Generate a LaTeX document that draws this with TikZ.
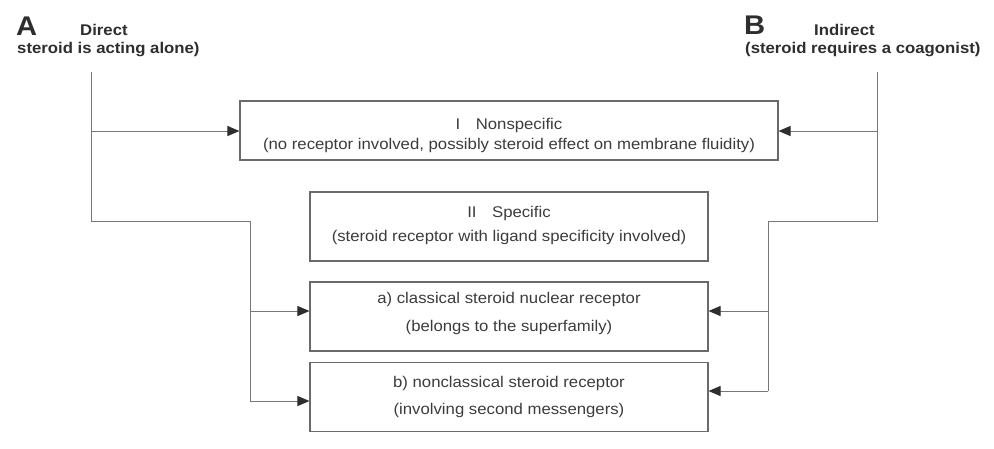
\documentclass[tikz,border=0pt]{standalone}
\usepackage{fontspec}
\setmainfont{Liberation Sans}[FakeStretch=1.08]
\usetikzlibrary{arrows.meta}

\definecolor{boxgray}{HTML}{6A6A6A}
\definecolor{linegray}{HTML}{777777}
\definecolor{txtgray}{HTML}{3C3C3C}
\definecolor{hdrgray}{HTML}{2E2E2E}

\begin{document}
\begin{tikzpicture}[x=1pt,y=-1pt,
    box/.style={draw=boxgray, line width=1.1pt, minimum width=398pt, minimum height=69pt, inner sep=0pt},
    boxtext/.style={align=center, text=txtgray, inner sep=0pt, font=\fontsize{15.5}{20}\selectfont},
    link/.style={draw=linegray, line width=1pt},
    arr/.style={link, -{Triangle[length=12pt,width=10pt,color=hdrgray]}},
    hdr/.style={font=\bfseries\fontsize{15.5}{18}\selectfont, text=hdrgray, inner sep=0pt, anchor=base west},
    letter/.style={font=\bfseries\fontsize{27}{30}\selectfont, text=hdrgray, inner sep=0pt, anchor=base west}]

            \fill[white] (0,0) rectangle (994,448);
            \useasboundingbox (0,0) rectangle (994,448);

            % headers
            \node[letter] (letA) at (16,35) {A};
            \node[hdr] (dirA) at (80,35) {Direct};
            \node[hdr] (subA) at (17,53) {steroid is acting alone)};
            \node[letter] (letB) at (744,34) {B};
            \node[hdr] (dirB) at (814,35) {Indirect};
            \node[hdr] (subB) at (745,53) {(steroid requires a coagonist)};

            % boxes
            \node[box, minimum width=538pt, minimum height=59pt] (nonspec) at (509,130.5) {};
            \node[boxtext] (nonspecT) at (509,135.5)
                {I\quad Nonspecific\\(no receptor involved, possibly steroid effect on membrane fluidity)};
            \node[box] (spec) at (509,226.5) {};
            \node[boxtext] (specT) at (509,225)
                {II\quad Specific\\[4pt](steroid receptor with ligand specificity involved)};
            \node[box] (classic) at (509,316.5) {};
            \node[boxtext] (classicT) at (509,313)
                {a) classical steroid nuclear receptor\\[8pt](belongs to the superfamily)};
            \node[box, minimum height=69pt] (nonclassic) at (509,397) {};
            \node[boxtext] (nonclassicT) at (509,397)
                {b) nonclassical steroid receptor\\[7pt](involving second messengers)};

            % direct side
            \coordinate (topA) at (91,72);
            \coordinate (elbA) at (250,221);
            \draw[link] (topA)--(91,221)--(elbA)--(250,401);
            \draw[arr] (91,131)--(nonspec.west |- 91,131);
            \draw[arr] (250,311)--(classic.west |- 250,311);
            \draw[arr] (250,401)--(nonclassic.west |- 250,401);

            % indirect side
            \coordinate (topB) at (877,72);
            \coordinate (elbB) at (768,221);
            \draw[link] (topB)--(877,221)--(elbB)--(768,391);
            \draw[arr] (877,131)--(nonspec.east |- 877,131);
            \draw[arr] (768,311)--(classic.east |- 768,311);
            \draw[arr] (768,391)--(nonclassic.east |- 768,391);

\end{tikzpicture}
\end{document}
